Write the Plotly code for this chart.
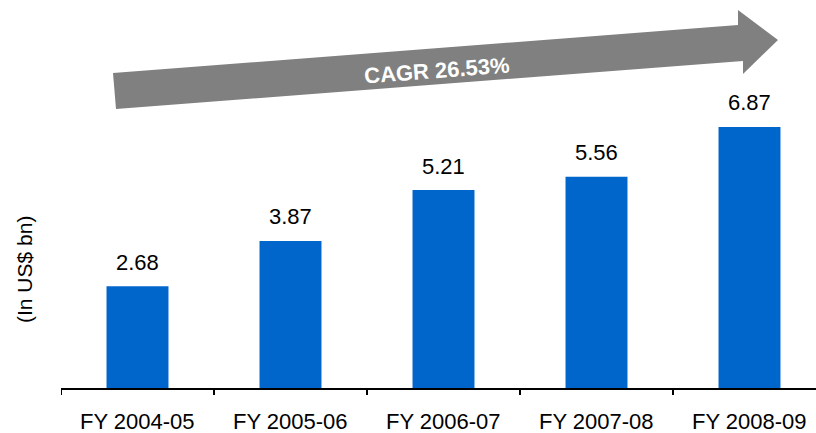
import plotly.graph_objects as go

categories = ["FY 2004-05", "FY 2005-06", "FY 2006-07", "FY 2007-08", "FY 2008-09"]
values = [2.68, 3.87, 5.21, 5.56, 6.87]
value_labels = ["2.68", "3.87", "5.21", "5.56", "6.87"]
cagr_label = "CAGR 26.53%"
y_title = "(In US$ bn)"

FONT = "Arial, Liberation Sans, sans-serif"
W, H = 816, 433
ML, MB = 61, 45
PW, PH = W - ML, H - MB

def px2paper(px, py):
    return (px - ML) / PW, (H - MB - py) / PH

fig = go.Figure()
fig.add_trace(go.Bar(
    x=categories, y=values,
    marker=dict(color="#0066CC", line=dict(width=0)),
    width=0.405, hoverinfo="skip",
))

for cat, v, lab in zip(categories, values, value_labels):
    fig.add_annotation(x=cat, y=v, xref="x", yref="y", text=lab, showarrow=False,
                       xanchor="center", yanchor="middle", yshift=24,
                       font=dict(family=FONT, size=22, color="#000000"))

# category tick labels placed below the axis line
for cat in categories:
    fig.add_annotation(x=cat, y=0, xref="x", yref="paper", text=cat, showarrow=False,
                       xanchor="center", yanchor="middle", yshift=-33.5,
                       font=dict(family=FONT, size=22, color="#000000"))

# category boundary tick marks
for i in range(len(categories)):
    fig.add_shape(type="line", xref="x", yref="paper", x0=i - 0.5, x1=i - 0.5,
                  y0=0, y1=-7 / PH, line=dict(color="#000000", width=2))

# CAGR arrow (decorative)
pts = [(116, 109), (113, 73), (738, 25), (738, 10), (778, 40), (743, 74), (743, 61)]
path = ""
for k, (a, b) in enumerate(pts):
    xp, yp = px2paper(a, b)
    path += ("M" if k == 0 else "L") + f"{xp:.5f},{yp:.5f} "
path += "Z"
fig.add_shape(type="path", path=path, xref="paper", yref="paper",
              fillcolor="#808080", line=dict(width=0), layer="below")

cx, cy = px2paper(437, 70)
fig.add_annotation(x=cx, y=cy, xref="paper", yref="paper", text=f"<b>{cagr_label}</b>",
                   showarrow=False, textangle=-4.4, xanchor="center", yanchor="middle",
                   font=dict(family=FONT, size=22, color="#FFFFFF"))

tx, ty = px2paper(24, 270)
fig.add_annotation(x=tx, y=ty, xref="paper", yref="paper", text=y_title,
                   showarrow=False, textangle=-90, xanchor="center", yanchor="middle",
                   font=dict(family=FONT, size=21, color="#000000"))

fig.update_layout(
    width=W, height=H,
    margin=dict(l=ML, r=0, t=0, b=MB),
    paper_bgcolor="white", plot_bgcolor="white",
    showlegend=False,
    font=dict(family=FONT, size=22, color="#000000"),
    xaxis=dict(
        type="category",
        range=[-0.5, -0.5 + PW / 153.0],
        showticklabels=False,
        showline=True, linecolor="#000000", linewidth=2,
        ticks="", showgrid=False, zeroline=False,
    ),
    yaxis=dict(range=[0, PH / 38.0], visible=False, showgrid=False, zeroline=False),
)

fig.write_html("out.html", config={"displayModeBar": False},
               post_script="document.body.style.margin='0';document.body.style.overflow='hidden';")
